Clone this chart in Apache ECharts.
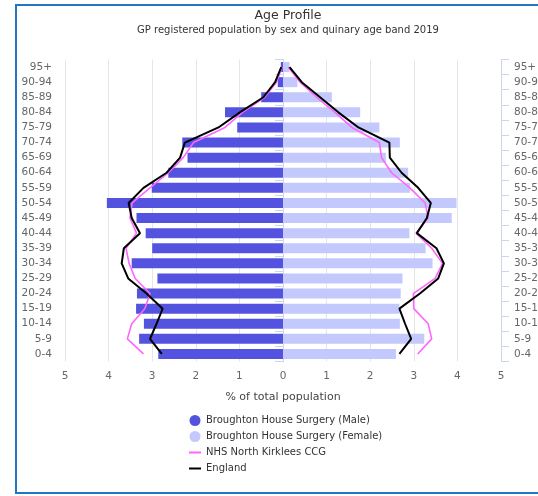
<!DOCTYPE html>
<html><head><meta charset="utf-8">
<script src="https://cdn.jsdelivr.net/npm/echarts@6/dist/echarts.min.js"></script>
<style>html,body{margin:0;padding:0;background:#fff}#c{width:538px;height:496px}</style>
</head><body><div id="c"></div>
<script>
// Categories bottom -> top
const ageBands = ['0-4','5-9','10-14','15-19','20-24','25-29','30-34','35-39','40-44','45-49','50-54','55-59','60-64','65-69','70-74','75-79','80-84','85-89','90-94','95+'];
const xTicks = [-5,-4,-3,-2,-1,0,1,2,3,4,5];
// % of total population
const practiceMale   = [2.86,3.30,3.19,3.37,3.35,2.88,3.47,3.00,3.15,3.36,4.04,3.01,2.63,2.19,2.31,1.05,1.33,0.50,0.12,0.05];
const practiceFemale = [2.59,3.24,2.68,2.67,2.70,2.74,3.43,3.27,2.90,3.87,3.98,2.91,2.87,2.36,2.68,2.21,1.77,1.12,0.33,0.15];
const ccgMale        = [3.20,3.57,3.47,3.17,3.05,3.39,3.53,3.60,3.36,3.51,3.46,3.05,2.63,2.29,2.05,1.33,0.93,0.42,0.15,0.02];
const ccgFemale      = [3.09,3.41,3.33,3.00,2.99,3.49,3.66,3.41,3.05,3.33,3.26,2.91,2.49,2.26,2.21,1.58,1.19,0.77,0.39,0.12];
const englandMale    = [2.78,3.05,2.90,2.76,3.13,3.55,3.70,3.65,3.28,3.47,3.54,3.20,2.67,2.36,2.25,1.48,0.99,0.45,0.18,0.04];
const englandFemale  = [2.67,2.94,2.80,2.67,3.14,3.56,3.69,3.52,3.07,3.30,3.39,3.10,2.72,2.45,2.44,1.73,1.27,0.85,0.43,0.15];

const neg = a => a.map(v => -v);
const FONT = 'DejaVu Sans';
const MALE = '#5353df', FEMALE = '#c3c9fc', PINK = '#ff66ff', BLACK = '#000000';
const axisCol = '#ccd6eb';
const LINE_ICON = 'path://M0,0 M0,4.5 L12,4.5 L12,6.5 L0,6.5 Z M12,11';

const chart = echarts.init(document.getElementById('c'));
const catAxis = (pos) => ({
  type: 'category', data: ageBands, position: pos,
  axisLine: {show: true, lineStyle: {color: axisCol}},
  axisTick: {show: true, length: 8, lineStyle: {color: axisCol}},
  axisLabel: {color: '#666', fontSize: 10.5, fontFamily: FONT, margin: 13},
  splitLine: {show: false}
});
chart.setOption({
  animation: false,
  textStyle: {fontFamily: FONT},
  graphic: [{type: 'rect', silent: true, z: -10,
    shape: {x: 16, y: 5, width: 600, height: 488},
    style: {fill: 'none', stroke: '#1f78c1', lineWidth: 2}}],
  title: {
    text: 'Age Profile', subtext: 'GP registered population by sex and quinary age band 2019',
    left: 283, textAlign: 'center', top: 4, itemGap: 3,
    textStyle: {fontSize: 12.5, fontWeight: 'normal', color: '#333', fontFamily: FONT},
    subtextStyle: {fontSize: 10, color: '#333', fontFamily: FONT}
  },
  grid: {left: 65, right: 37, top: 59.5, bottom: 134.5, containLabel: false, outerBoundsMode: 'none'},
  xAxis: {
    type: 'value', min: xTicks[0], max: xTicks[xTicks.length-1], interval: 1,
    axisLine: {show: false}, axisTick: {show: false},
    splitLine: {show: true, lineStyle: {color: '#e6e6e6'}},
    axisLabel: {color: '#666', fontSize: 10.5, fontFamily: FONT, margin: 9, formatter: v => String(Math.abs(v))},
    name: '% of total population', nameLocation: 'middle', nameGap: 30,
    nameTextStyle: {color: '#444', fontSize: 11, fontFamily: FONT}
  },
  yAxis: [catAxis('left'), catAxis('right')],
  legend: {
    orient: 'vertical', left: 184, top: 410, itemGap: 5, itemWidth: 12, itemHeight: 11,
    textStyle: {color: '#333', fontSize: 10, fontFamily: FONT},
    data: [
      {name: 'Broughton House Surgery (Male)', icon: 'circle'},
      {name: 'Broughton House Surgery (Female)', icon: 'circle'},
      {name: 'NHS North Kirklees CCG', icon: LINE_ICON},
      {name: 'England', icon: LINE_ICON}
    ]
  },
  series: [
    {name: 'Broughton House Surgery (Male)', type: 'bar', stack: 'p', barWidth: 10, data: neg(practiceMale), itemStyle: {color: MALE}},
    {name: 'Broughton House Surgery (Female)', type: 'bar', stack: 'p', barWidth: 10, data: practiceFemale, itemStyle: {color: FEMALE}},
    {name: 'NHS North Kirklees CCG', type: 'line', symbol: 'none', data: neg(ccgMale), lineStyle: {color: PINK, width: 1.6}, itemStyle: {color: PINK}, z: 3},
    {name: 'NHS North Kirklees CCG', type: 'line', symbol: 'none', data: ccgFemale, lineStyle: {color: PINK, width: 1.6}, itemStyle: {color: PINK}, z: 3},
    {name: 'England', type: 'line', symbol: 'none', data: neg(englandMale), lineStyle: {color: BLACK, width: 2}, itemStyle: {color: BLACK}, z: 4},
    {name: 'England', type: 'line', symbol: 'none', data: englandFemale, lineStyle: {color: BLACK, width: 2}, itemStyle: {color: BLACK}, z: 4}
  ]
});
</script></body></html>
